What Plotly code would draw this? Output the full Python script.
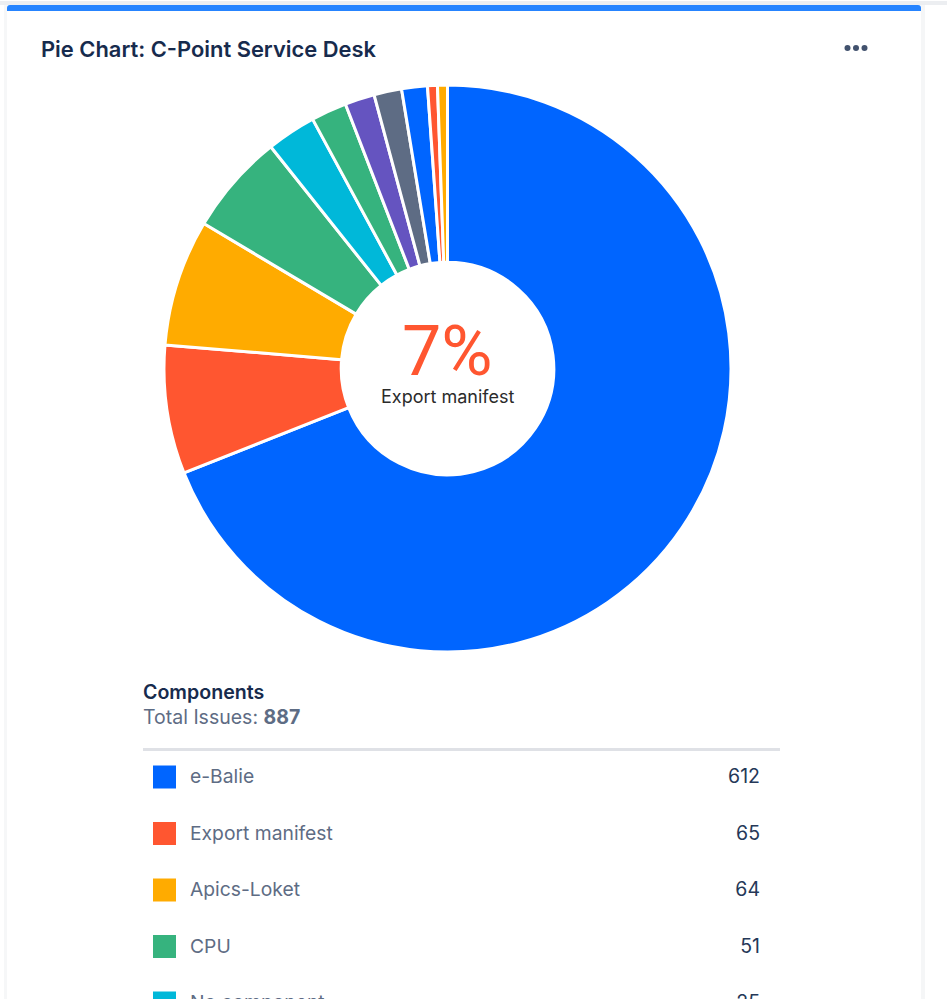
# Pie chart card: C-Point Service Desk
import plotly.graph_objects as go

W, H = 947, 999

# slice data, the last slices have no readable legend row
components = ["e-Balie", "Export manifest", "Apics-Loket", "CPU", "No component",
              "Other 1", "Other 2", "Other 3", "Other 4", "Other 5", "Other 6"]
issues = [612, 65, 64, 51, 25, 18, 15, 14, 13, 5, 5]
colors = ["#0065FF", "#FF5630", "#FFAB00", "#36B37E", "#00B8D9",
          "#36B37E", "#6554C0", "#5E6C84", "#0065FF", "#FF5630", "#FFAB00"]
legend_rows = 5

NAVY = "#172B4D"
SLATE = "#5E6C84"
FONT = "Inter"

fig = go.Figure()

# pie box in pixels
left, right, top, bottom = 164, 731, 85, 652
fig.add_trace(go.Pie(
    labels=components,
    values=issues,
    sort=False,
    direction="clockwise",
    rotation=0,
    hole=0.375,
    textinfo="none",
    marker=dict(colors=colors, line=dict(color="white", width=3)),
    domain=dict(x=[left / W, right / W], y=[1 - bottom / H, 1 - top / H]),
    showlegend=False,
))

# legend rows
row_y = [777 + 56.5 * i for i in range(legend_rows)]
text_y = [y + 1.5 for y in row_y]
fig.add_trace(go.Scatter(
    x=[164.5] * legend_rows, y=row_y, mode="markers", showlegend=False,
    marker=dict(symbol="square", size=23, color=colors[:legend_rows], line=dict(width=0)),
))
fig.add_trace(go.Scatter(
    x=[190] * legend_rows, y=text_y, mode="text", showlegend=False,
    text=components[:legend_rows], textposition="middle right",
    textfont=dict(family=FONT, size=19.3, color=SLATE),
))
fig.add_trace(go.Scatter(
    x=[760] * legend_rows, y=text_y, mode="text", showlegend=False,
    text=[str(v) for v in issues[:legend_rows]], textposition="middle left",
    textfont=dict(family=FONT, size=19.5, color="#253858"),
))
# three dots menu
fig.add_trace(go.Scatter(
    x=[847.5, 856, 864.5], y=[48, 48, 48], mode="markers", showlegend=False,
    marker=dict(size=6, color="#42526E", line=dict(width=0)),
))


def label(x, y, text, size, color, anchor="left", weight=400, family=FONT):
    fig.add_annotation(
        x=x / W, y=1 - y / H, xref="paper", yref="paper", text=text, showarrow=False,
        xanchor=anchor, yanchor="middle",
        font=dict(family=family, size=size, color=color, weight=weight),
    )


label(39, 49, "Pie Chart: C-Point Service Desk", 21.9, NAVY, weight=600)
label(447.5, 351, "7%", 70, "#FF5630", anchor="center", family="Roboto")
label(447, 396.5, "Export manifest", 18, "#2B2B2B", anchor="center")
label(141, 692, "Components", 19.6, NAVY, weight=600)
label(141, 717, "Total Issues: <b>887</b>", 19.5, SLATE)

shapes = [
    # strip above the card and soft card edges
    dict(type="rect", x0=0, x1=W, y0=1, y1=5, fillcolor="#ECEEF1"),
    dict(type="rect", x0=4, x1=7, y0=5, y1=H, fillcolor="#F6F7F8"),
    dict(type="rect", x0=921, x1=925, y0=5, y1=H, fillcolor="#F5F6F7"),
    dict(type="rect", x0=7, x1=921, y0=5, y1=H, fillcolor="white"),
    dict(type="path", path="M7,11 L7,8 Q7,5 10,5 L918,5 Q921,5 921,8 L921,11 Z", fillcolor="#2684FF"),
    # line under legend header
    dict(type="rect", x0=143, x1=780, y0=748, y1=751, fillcolor="#DFE1E6"),
]
for s in shapes:
    s.update(xref="x", yref="y", line=dict(width=0), layer="below")

fig.update_layout(
    width=W, height=H,
    margin=dict(l=0, r=0, t=0, b=0),
    paper_bgcolor="white", plot_bgcolor="white",
    shapes=shapes,
    xaxis=dict(range=[0, W], visible=False, fixedrange=True),
    yaxis=dict(range=[H, 0], visible=False, fixedrange=True),
)

fig.write_html("out.html", config=dict(displayModeBar=False),
               post_script="document.body.style.margin='0';document.body.style.overflow='hidden';")
